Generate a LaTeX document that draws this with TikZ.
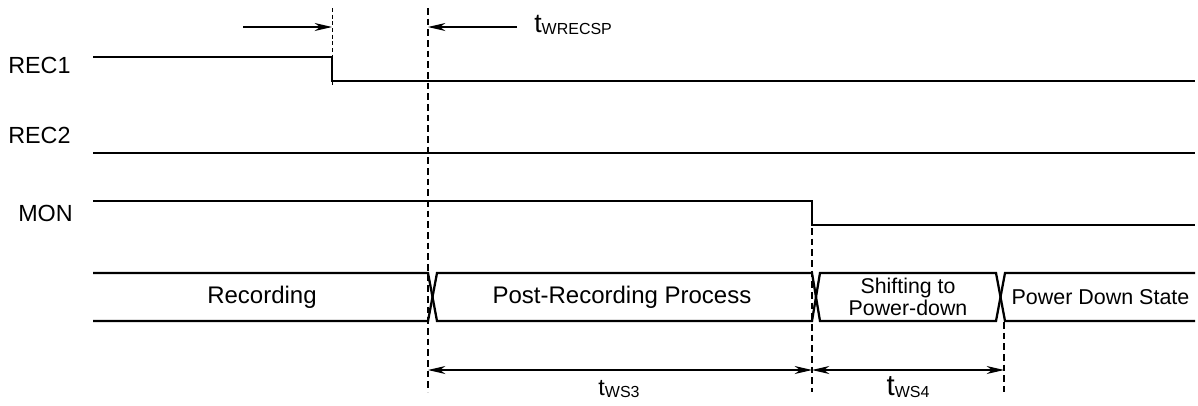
\documentclass[tikz,border=0pt]{standalone}
\usepackage{fontspec}
\setmainfont{Liberation Sans}
\usetikzlibrary{arrows.meta}
\begin{document}
\begin{tikzpicture}[x=0.75pt,y=-0.75pt,
  sig/.style={line width=1.7pt},
  guide/.style={line width=0.8pt,dash pattern=on 5pt off 3pt},
  thinguide/.style={line width=0.6pt,dash pattern=on 3pt off 2pt},
  dim/.style={line width=0.8pt},
  tip/.style={-{Stealth[length=13pt,width=6pt,inset=4pt]}},
  dtip/.style={{Stealth[length=13pt,width=6pt,inset=4pt]}-{Stealth[length=13pt,width=6pt,inset=4pt]}},
  lbl/.style={font=\fontsize{17.5}{19}\selectfont,anchor=west,inner sep=0pt},
  bus/.style={font=\fontsize{18}{20}\selectfont,inner sep=0pt,align=center},
  tl/.style={font=\fontsize{20}{21}\selectfont,inner sep=0pt}]
\useasboundingbox (0,0) rectangle (1198,405);
% signal names
\node[lbl] (nrec1) at (8,65) {REC1};
\node[lbl] (nrec2) at (8,135) {REC2};
\node[lbl] (nmon) at (18,213) {MON};
% REC1
\coordinate (r1a) at (93,57);
\coordinate (r1b) at (332,57);
\coordinate (r1c) at (332,81);
\coordinate (r1d) at (1195,81);
\draw[sig] (r1a) -- (r1b) -- (r1c) -- (r1d);
% REC2
\coordinate (r2a) at (93,153);
\coordinate (r2b) at (1195,153);
\draw[sig] (r2a) -- (r2b);
% MON
\coordinate (ma) at (93,201);
\coordinate (mb) at (812,201);
\coordinate (mc) at (812,225);
\coordinate (md) at (1195,225);
\draw[sig] (ma) -- (mb) -- (mc) -- (md);
% bus
\coordinate (b0t) at (93,273);   \coordinate (b0b) at (93,321);
\coordinate (x1l) at (428,0);    \coordinate (x1r) at (437,0);
\coordinate (x2l) at (812,0);    \coordinate (x2r) at (820,0);
\coordinate (x3l) at (996,0);    \coordinate (x3r) at (1005,0);
\coordinate (bet) at (1195,273); \coordinate (beb) at (1195,321);
\draw[sig] (b0t) -- (x1l|-b0t) -- (x1r|-b0b) -- (x2l|-b0b) -- (x2r|-b0t) -- (x3l|-b0t) -- (x3r|-b0b) -- (beb);
\draw[sig] (b0b) -- (x1l|-b0b) -- (x1r|-b0t) -- (x2l|-b0t) -- (x2r|-b0b) -- (x3l|-b0b) -- (x3r|-b0t) -- (bet);
\node[bus] (s1) at (262,297) {Recording};
\node[bus] (s2) at (622,297) {Post-Recording Process};
\node[bus,font=\fontsize{16}{17}\selectfont] (s3) at (908,297) {Shifting to\\Power-down};
\node[bus,font=\fontsize{16.1}{18}\selectfont] (s4) at (1100.5,297) {Power Down State};
% guides
\coordinate (g1t) at (332,8);   \coordinate (g1b) at (332,86);
\coordinate (g2t) at (428,8);   \coordinate (g2b) at (428,392);
\coordinate (g3t) at (812,228); \coordinate (g3b) at (812,392);
\coordinate (g4t) at (1004,322); \coordinate (g4b) at (1004,392);
\draw[thinguide] (g1t) -- (g1b);
\draw[guide] (g2t) -- (g2b);
\draw[guide] (g3t) -- (g3b);
\draw[guide] (g4t) -- (g4b);
% top arrows
\coordinate (a1s) at (243,27); \coordinate (a1e) at (332,27);
\coordinate (a2s) at (517,27); \coordinate (a2e) at (428,27);
\draw[dim,tip] (a1s) -- (a1e);
\draw[dim,tip] (a2s) -- (a2e);
\node[tl,anchor=west] (twrecsp) at (534,25) {t\raisebox{-2pt}{\fontsize{12}{12}\selectfont WRECSP}};
% bottom arrows
\coordinate (d1) at (428,370); \coordinate (d2) at (812,370); \coordinate (d3) at (1004,370);
\draw[dim,dtip] (d1) -- (d2);
\draw[dim,dtip] (d2) -- (d3);
\node[tl,font=\fontsize{17.5}{18}\selectfont] (tws3) at (619,389) {t\raisebox{-1.5pt}{\fontsize{12}{12}\selectfont WS3}};
\node[tl,font=\fontsize{22}{23}\selectfont] (tws4) at (908,387) {t\raisebox{-1.5pt}{\fontsize{12}{12}\selectfont WS4}};
\end{tikzpicture}
\end{document}
